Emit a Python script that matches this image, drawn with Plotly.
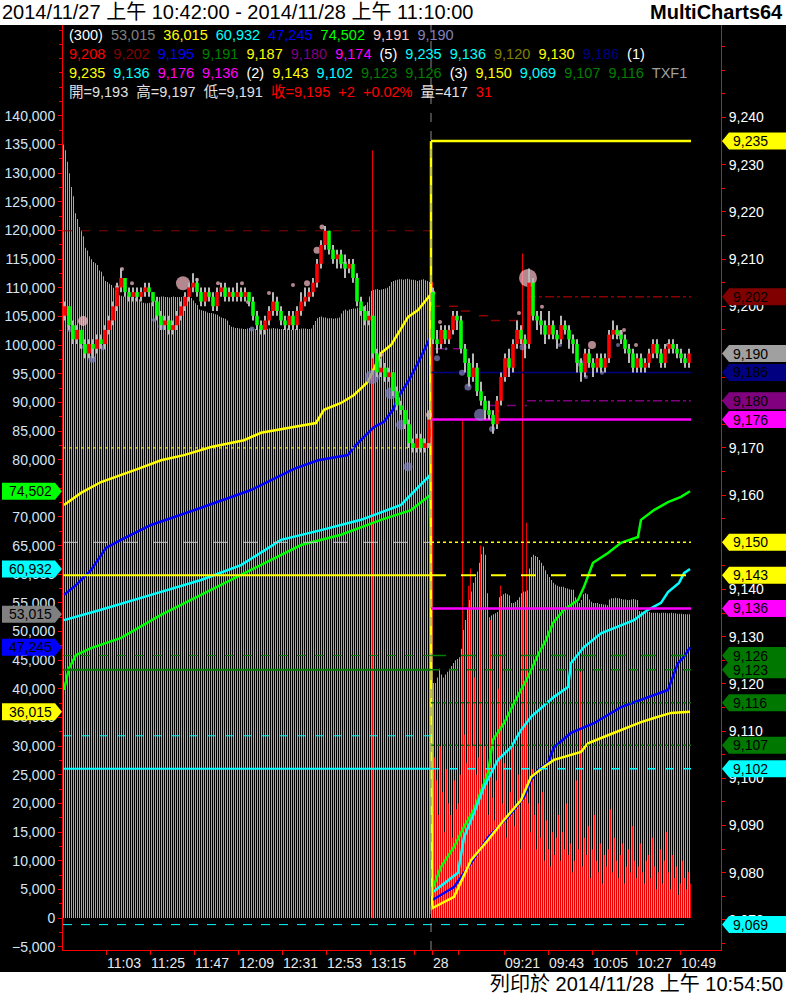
import plotly.graph_objects as go

FONT = "Liberation Sans, Arial, Noto Sans CJK TC, sans-serif"

TITLE_TEXT = "2014/11/27 上午 10:42:00 - 2014/11/28 上午 11:10:00"
BRAND_TEXT = "MultiCharts64"
PRINT_TEXT = "列印於 2014/11/28 上午 10:54:50"

DAY1_BARS = 184   # 1-min bars 10:42 .. 13:45 (27th)
DAY2_BARS = 130   # 1-min bars 08:45 .. 10:54 (28th)
CANDLE_SPAN = 2   # minutes per drawn candle

TICK_IDX = [21, 43, 65, 87, 109, 131, 153, 175, 184, 197, 220, 242, 264, 286, 308]
TICK_TEXT = ["11:03", "11:25", "11:47", "12:09", "12:31", "12:53", "13:15", "", "28", "",
             "09:21", "09:43", "10:05", "10:27", "10:49"]

LEFT_TICKS = list(range(-5000, 140001, 5000))
RIGHT_TICKS = list(range(9070, 9241, 10))
RIGHT_HIDDEN = [9150, 9180, 9190]   # labels covered by value tags

# ---- volume (thousands) ----
VOL_AVG_D1 = [135, 134, 132, 130, 127.6, 126, 123, 122, 120.6, 120, 119, 117, 116.5, 115.5, 115, 114.5,
              114.3, 114, 113, 112.8, 112, 111.2, 111, 110.7, 110.5, 110, 109.6, 109,
              108.7, 108.6, 108.5, 108.5, 108.6, 108.5, 108.4, 108.4, 108.3, 108.3, 108.0,
              107.5, 107.4, 107.3, 107.3, 107.4, 107.5, 107.6, 107.8,
              108.3, 108.4, 108.5, 108.5, 108.4, 108.4, 108.3, 108.4, 108.5, 108.4, 108.4, 108.4,
              108.4, 108.5, 108.4, 108.4, 108.3, 108.2,
              107.8, 107.3, 107.0,
              106.2, 106.1, 106.0, 105.9,
              105.7, 105.6, 105.6, 105.5, 105.4, 105.3, 105.0,
              104.8, 104.7, 104.6, 104.3,
              103.5, 103.2, 103.1, 103.0, 103.0,
              102.9, 102.9, 102.8, 102.8, 102.9, 103.0, 102.9, 102.8, 102.8, 102.7, 102.8, 102.9, 102.9,
              102.8, 102.8, 102.9, 102.9, 103.0, 102.9, 102.9, 102.8, 102.8, 102.8, 102.9, 102.9, 102.8,
              102.7, 102.7, 102.8, 102.8, 102.8, 102.9, 102.9, 102.9, 102.8, 102.8, 102.9,
              103.5, 104.2, 104.7, 104.9, 105.0,
              104.8, 104.8, 104.7, 104.7, 104.7, 104.6, 104.7, 104.7, 104.8,
              105.5, 106.0, 106.2, 106.0, 106.2, 106.3, 106.4, 106.4, 106.5,
              106.5, 106.6, 106.8, 107.0, 107.5, 108.5, 109.5,
              109.6, 109.7, 109.8, 109.6, 109.7, 109.8, 109.9, 110.0, 110.3,
              111.0, 111.2, 111.3, 111.4, 111.5, 111.5, 111.4, 111.5, 111.6, 111.5, 111.4, 111.4,
              111.3, 111.2, 111.3, 111.4, 111.5, 111.3, 111.2, 111.0]
VOL_AVG_D2 = [38, 41, 41, 42, 43.5, 42.5, 42, 42.5, 43, 43.5, 44, 44.5, 45, 45.2, 45.5,
              47, 50.3, 52, 54, 55.5, 57, 58.5, 59.5, 60.5, 62, 63.5, 64.8, 63.4,
              56.7, 52.5, 52.8, 53, 53.2, 53.4, 56, 56.2, 56.5, 56.7, 56.5, 56.3,
              55, 55, 55.2, 55.5, 56, 56.7, 57, 57, 57.2, 61, 63, 63.4, 63.2,
              63, 62.5, 62, 61.5, 60.7, 60, 59.5, 59, 58.5, 58.2, 58, 57.8, 57.8,
              57.8, 57.6, 57.5, 57.4, 57.3, 57.3, 56, 55.2, 55, 55.5, 56.5, 56.7, 56.5, 55.6,
              55.2, 55, 55, 55, 54.8, 54.8, 54.7, 54.7, 54.6,
              55.6, 55.8, 55.8, 55.9, 55.8, 55.8, 55.7, 55.6, 55.6, 55.5, 55.5, 55.6, 55.7, 55.6, 55.5,
              53.6, 53.5, 53.5, 53.4, 53.4, 53.4, 53.3, 53.3,
              53.3, 53.3, 53.2, 53.3, 53.3, 53.3, 53.2, 53.2, 53.3, 53.2, 53.2, 53.1, 53.1,
              53.1, 53.0, 53.0, 53.0, 53.015]
VOL_D2 = [111, 28, 24, 18, 30, 22, 15, 26, 20, 18, 14, 24, 19, 20, 25, 87, 32, 27, 58, 61,
          30, 42, 25, 28, 65, 22, 30, 26, 18, 52, 21, 17, 24, 40, 58, 20, 27, 14, 18, 22,
          30, 16, 19, 25, 12, 116, 34, 69, 20, 15, 26, 18, 12, 20, 14, 22, 10, 17, 12, 9,
          15, 11, 14, 18, 10, 15, 12, 20, 11, 13, 8, 10, 24, 12, 43, 9, 14, 11, 16, 7,
          12, 18, 10, 8, 13, 6, 11, 9, 12, 19, 8, 14, 10, 7, 11, 13, 6, 9, 12, 8,
          16, 10, 7, 9, 13, 8, 6, 10, 11, 7, 14, 9, 5, 8, 12, 6, 10, 15, 8, 5,
          11, 7, 9, 4, 6, 10, 7, 5, 8, 6]
VOL_D1_SPIKE_IDX = [154]
VOL_D1_SPIKE = [134]

# ---- cumulative volume lines (thousands), sampled (bar index, value) ----
YEL_IDX = [0, 8.5, 18.5, 28.5, 37, 48.5, 60, 73.5, 90, 98.5, 115, 126, 130, 138.5, 145, 152, 158.5, 163.5, 172, 177, 183,
           184, 195, 203.5, 212, 220, 228.5, 233.5, 240, 245, 258.5, 262, 272, 282, 288.5, 295, 303.5, 313]
YEL_VAL = [72.1, 74.2, 76.1, 77.3, 78.4, 79.9, 80.8, 82.2, 83.4, 84.7, 85.7, 86.4, 88.7, 89.9, 91.3, 93.6, 98.6, 100.0, 104.9, 106.1, 108.7,
           1.7, 3.7, 10.1, 13.6, 17.1, 20.6, 24.6, 26.4, 27.6, 29.0, 30.5, 31.9, 33.3, 34.2, 34.9, 35.8, 36.015]
BLU_IDX = [0, 6, 13.5, 21, 28.5, 43.5, 68.5, 93.5, 115, 127, 142, 145, 150, 155, 160, 164.5, 167, 172, 177, 183,
           184, 195, 203.5, 212, 222, 230, 233.5, 237, 242, 245, 253.5, 265, 278.5, 292, 302, 307, 310, 313]
BLU_VAL = [56.4, 58.1, 60.7, 64.6, 66.0, 68.6, 71.6, 74.7, 78.4, 79.9, 80.8, 82.2, 84.0, 85.7, 86.6, 88.7, 90.9, 93.6, 96.9, 101.2,
           3.1, 5.4, 9.6, 14.1, 17.6, 21.1, 24.1, 25.8, 27.1, 29.8, 32.3, 34.0, 36.8, 38.6, 39.8, 44.5, 45.6, 47.245]
CYN_IDX = [0, 18.5, 43.5, 68.5, 88.5, 108.5, 128.5, 148.5, 168.5, 183,
           184, 192, 197, 200, 205, 210, 217, 223.5, 228.5, 233.5, 245, 252, 253.5, 260, 268.5, 275, 285, 292, 298.5, 302, 307.5, 310, 313]
CYN_VAL = [52.0, 53.8, 56.4, 59.0, 61.6, 66.0, 67.7, 69.5, 72.1, 77.3,
           4.4, 6.6, 7.9, 14.1, 18.3, 22.9, 27.6, 29.8, 32.8, 35.1, 38.6, 40.3, 44.5, 47.3, 49.7, 50.6, 52.0, 53.8, 55.0, 56.9, 58.5, 60.2, 60.932]
GRN_IDX = [0, 2.5, 6, 13.5, 28.5, 48.5, 68.5, 88.5, 103.5, 118.5, 138.5, 158.5, 173.5, 183,
           184, 188.5, 195, 200, 205, 212, 214.5, 220, 225, 232, 237.5, 241, 244.5, 250, 257, 260, 264.5, 272, 278.5, 287, 288.5, 295, 302, 308.5, 313]
GRN_VAL = [39.8, 43.6, 45.9, 47.1, 48.9, 52.9, 56.4, 59.9, 62.5, 65.1, 66.9, 69.5, 71.2, 73.8,
           4.9, 8.9, 12.4, 15.9, 18.9, 25.3, 31.1, 34.0, 37.5, 42.1, 46.3, 48.5, 51.5, 53.8, 55.5, 57.8, 62.0, 63.7, 65.5, 66.5, 69.5, 71.2, 72.6, 73.5, 74.502]

# ---- candles (2-minute), day 1 and day 2 ----
O1 = [9198, 9200, 9196, 9193, 9195, 9192, 9190, 9192, 9191, 9193, 9192, 9195, 9197, 9200, 9204, 9206, 9203, 9202, 9203, 9202,
      9203, 9204, 9203, 9201, 9198, 9196, 9197, 9195, 9196, 9198, 9200, 9202, 9204, 9205, 9203, 9201, 9203, 9202, 9200, 9203,
      9204, 9202, 9203, 9202, 9203, 9202, 9203, 9201, 9198, 9196, 9195, 9197, 9199, 9201, 9199, 9197, 9196, 9198, 9196, 9199,
      9201, 9202, 9203, 9205, 9209, 9213, 9216, 9212, 9210, 9211, 9209, 9208, 9209, 9206, 9201, 9199, 9197, 9198, 9190, 9186,
      9187, 9185, 9186, 9182, 9179, 9178, 9175, 9171, 9170, 9172, 9170, 9171]
H1 = [9201, 9200, 9197, 9196, 9195, 9193, 9193, 9193, 9194, 9194, 9196, 9198, 9201, 9205, 9208, 9206, 9204, 9204, 9204, 9204,
      9205, 9205, 9203, 9202, 9199, 9198, 9198, 9197, 9199, 9201, 9203, 9205, 9207, 9206, 9204, 9204, 9204, 9203, 9204, 9205,
      9205, 9204, 9204, 9205, 9204, 9204, 9203, 9202, 9199, 9197, 9198, 9200, 9203, 9202, 9200, 9198, 9199, 9199, 9200, 9203,
      9204, 9204, 9206, 9210, 9214, 9217, 9216, 9213, 9212, 9212, 9211, 9210, 9210, 9207, 9202, 9200, 9199, 9198, 9191, 9189,
      9188, 9187, 9186, 9183, 9180, 9178, 9176, 9172, 9173, 9173, 9172, 9178]
L1 = [9197, 9195, 9192, 9192, 9191, 9189, 9189, 9189, 9190, 9191, 9191, 9194, 9196, 9199, 9203, 9202, 9201, 9201, 9201, 9201,
      9202, 9202, 9200, 9197, 9195, 9195, 9194, 9194, 9195, 9197, 9199, 9201, 9203, 9202, 9200, 9200, 9201, 9199, 9199, 9202,
      9201, 9201, 9201, 9201, 9201, 9201, 9200, 9197, 9195, 9194, 9194, 9196, 9198, 9198, 9196, 9195, 9195, 9195, 9195, 9198,
      9200, 9201, 9202, 9204, 9208, 9212, 9211, 9209, 9208, 9208, 9206, 9207, 9205, 9200, 9198, 9196, 9196, 9189, 9185, 9185,
      9184, 9184, 9181, 9178, 9177, 9174, 9170, 9169, 9169, 9169, 9169, 9170]
C1 = [9200, 9196, 9193, 9195, 9192, 9190, 9192, 9191, 9193, 9192, 9195, 9197, 9200, 9204, 9206, 9203, 9202, 9203, 9202, 9203,
      9204, 9203, 9201, 9198, 9196, 9197, 9195, 9196, 9198, 9200, 9202, 9204, 9205, 9203, 9201, 9203, 9202, 9200, 9203, 9204,
      9202, 9203, 9202, 9203, 9202, 9203, 9201, 9198, 9196, 9195, 9197, 9199, 9201, 9199, 9197, 9196, 9198, 9196, 9199, 9201,
      9202, 9203, 9205, 9209, 9213, 9216, 9212, 9210, 9211, 9209, 9208, 9209, 9206, 9201, 9199, 9197, 9198, 9190, 9186, 9187,
      9185, 9186, 9182, 9179, 9178, 9175, 9171, 9170, 9172, 9170, 9171, 9176]
O2 = [9203, 9193, 9192, 9195, 9193, 9195, 9198, 9197, 9191, 9188, 9185, 9187, 9182, 9180, 9178, 9177, 9175, 9180, 9185, 9189,
      9187, 9192, 9195, 9193, 9192, 9205, 9198, 9197, 9196, 9194, 9196, 9194, 9193, 9196, 9195, 9193, 9192, 9188, 9186, 9190,
      9188, 9187, 9189, 9187, 9189, 9194, 9195, 9194, 9193, 9191, 9190, 9187, 9189, 9187, 9188, 9190, 9192, 9190, 9188, 9191,
      9192, 9191, 9190, 9189, 9188]
H2 = [9204, 9195, 9196, 9196, 9196, 9199, 9199, 9198, 9192, 9189, 9190, 9188, 9184, 9181, 9180, 9178, 9181, 9186, 9190, 9191,
      9193, 9197, 9196, 9194, 9208, 9206, 9199, 9199, 9197, 9199, 9197, 9195, 9198, 9197, 9196, 9194, 9193, 9189, 9191, 9191,
      9189, 9190, 9190, 9190, 9195, 9197, 9196, 9195, 9194, 9192, 9191, 9190, 9190, 9189, 9191, 9193, 9193, 9191, 9192, 9193,
      9193, 9192, 9191, 9190, 9191]
L2 = [9192, 9190, 9191, 9192, 9192, 9194, 9195, 9190, 9186, 9183, 9184, 9181, 9179, 9176, 9176, 9173, 9174, 9179, 9184, 9185,
      9186, 9191, 9192, 9189, 9191, 9197, 9195, 9194, 9192, 9193, 9193, 9191, 9192, 9194, 9191, 9190, 9186, 9184, 9185, 9187,
      9185, 9186, 9186, 9186, 9188, 9193, 9193, 9192, 9190, 9188, 9186, 9186, 9186, 9186, 9187, 9189, 9189, 9187, 9187, 9190,
      9190, 9189, 9188, 9187, 9187]
C2 = [9193, 9192, 9195, 9193, 9195, 9198, 9197, 9191, 9188, 9185, 9187, 9182, 9180, 9178, 9177, 9175, 9180, 9185, 9189, 9187,
      9192, 9195, 9193, 9192, 9205, 9198, 9197, 9196, 9194, 9196, 9194, 9193, 9196, 9195, 9193, 9192, 9188, 9186, 9190, 9188,
      9187, 9189, 9187, 9189, 9194, 9195, 9194, 9193, 9191, 9190, 9187, 9189, 9187, 9188, 9190, 9192, 9190, 9188, 9191, 9192,
      9191, 9190, 9189, 9188, 9190]

# ---- high/low dots (bar index, price, size) ----
PINK_IDX = [9.5, 26.5, 29, 34, 59.5, 66.5, 77, 89, 92, 102.5, 114.5, 121.5, 126.5, 129, 140.5, 158.5, 182.5,
            184.5, 188, 227.5, 232, 239, 264, 278, 280, 286, 302]
PINK_PX = [9196.9, 9204.1, 9207.9, 9204.9, 9204.9, 9205.6, 9204.9, 9204.9, 9200.9, 9202.8, 9204.5, 9204.9, 9211.9, 9216.8,
           9209.2, 9189.7, 9177.0, 9202.8, 9196.7, 9198.6, 9206.0, 9199.9, 9191.8, 9194.3, 9195.0, 9191.8, 9191.8]
PINK_SZ = [10, 4, 4, 4, 14, 4, 4, 4, 4, 4, 4, 6, 7, 5, 4, 4, 6, 5, 4, 4, 18, 4, 8, 6, 4, 4, 4]
LAV_IDX = [3, 10.5, 14, 19.5, 45, 49, 94, 100, 154, 163.5, 168.5, 172,
           186.5, 191, 199, 202, 208, 214, 217, 229.5, 248, 258, 261, 269, 277]
LAV_PX = [9195.2, 9191.4, 9188.8, 9191.2, 9197.1, 9195.8, 9195.2, 9195.8, 9185.0, 9181.6, 9174.9, 9166.0,
          9189.0, 9191.0, 9185.9, 9182.9, 9177.0, 9174.0, 9177.8, 9191.4, 9191.8, 9188.0, 9185.0, 9185.9, 9191.8]
LAV_SZ = [6, 6, 7, 5, 4, 7, 5, 3, 14, 12, 10, 9, 6, 3, 6, 7, 12, 6, 3, 7, 4, 7, 4, 4, 4]

# ---- horizontal level lines: price, from bar, to bar ----
LEVEL_PX = [9216, 9170, 9150, 9143, 9126, 9123, 9109, 9102, 9069,
            9235, 9202, 9200, 9199, 9198, 9197, 9191, 9179, 9180, 9186, 9176, 9150, 9143, 9136,
            9126, 9123, 9116, 9107, 9102]
LEVEL_FROM = [0, 0, 0, 0, 0, 0, 0, 0, 0,
              184, 232, 184, 199, 208, 214, 186, 213, 232, 184, 184, 184, 184, 184,
              184, 184, 184, 184, 184]
LEVEL_TO = [183, 183, 183, 183, 183, 183, 183, 183, 313,
            313, 313, 198, 207, 213, 231, 203, 231, 313, 313, 313, 313, 313, 313,
            313, 313, 313, 313, 313]
LEVEL_STYLE = [("#8b0000", "dash", 1), ("#ffff00", "dot", 1), ("#c8c8c8", "longdash", 1), ("#ffff00", "solid", 2),
               ("#008000", "dash", 1), ("#008000", "solid", 2), ("#00ffff", "dash", 1), ("#00ffff", "solid", 2),
               ("#00ffff", "dash", 1),
               ("#ffff00", "solid", 2.5), ("#8b0000", "dashdot", 1.5), ("#8b0000", "dash", 1.5), ("#8b0000", "dash", 1.5),
               ("#8b0000", "dash", 1.5), ("#8b0000", "dash", 1.5), ("#800080", "dash", 1.5), ("#800080", "dash", 1.5),
               ("#800080", "dashdot", 1.5), ("#000080", "solid", 1.5), ("#ff00ff", "solid", 2.5), ("#ffff00", "dot", 1.5),
               ("#ffff00", "longdash", 2), ("#ff00ff", "solid", 2.5),
               ("#008000", "longdash", 1.5), ("#008000", "dash", 1.5), ("#008000", "dot", 1.5), ("#008000", "dot", 1.5),
               ("#00ffff", "dash", 1.5)]
OPEN_JUMP_PX = [9200, 9235]  # yellow level entering day 2

# ---- value tags ----
RTAG_VAL = [9235, 9202, 9190, 9186, 9180, 9176, 9150, 9143, 9136, 9126, 9123, 9116, 9107, 9102, 9069]
RTAG_COL = ["#ffff00", "#800000", "#a0a0a0", "#000080", "#800080", "#ff00ff", "#ffff00", "#ffff00", "#ff00ff",
            "#007800", "#007800", "#007800", "#007800", "#00ffff", "#00ffff"]
LTAG_VAL = [74502, 60932, 53015, 47245, 36015]
LTAG_COL = ["#00ff00", "#00ffff", "#808080", "#0000ff", "#ffff00"]

LEGEND_LINES = [
    [("(300)", "#ffffff"), ("53,015", "#808080"), ("36,015", "#ffff00"), ("60,932", "#00ffff"),
     ("47,245", "#0000ff"), ("74,502", "#00ff00"), ("9,191", "#ffc8c8"), ("9,190", "#8080c0")],
    [("9,208", "#ff0000"), ("9,202", "#800000"), ("9,195", "#0000ff"), ("9,191", "#008000"), ("9,187", "#ffff00"),
     ("9,180", "#800080"), ("9,174", "#ff00ff"), ("(5)", "#ffffff"), ("9,235", "#00ffff"), ("9,136", "#00ffff"),
     ("9,120", "#808000"), ("9,130", "#ffff00"), ("9,186", "#000080"), ("(1)", "#ffffff")],
    [("9,235", "#ffff00"), ("9,136", "#00ffff"), ("9,176", "#ff00ff"), ("9,136", "#ff00ff"), ("(2)", "#ffffff"),
     ("9,143", "#ffff00"), ("9,102", "#00ffff"), ("9,123", "#008000"), ("9,126", "#008000"), ("(3)", "#ffffff"),
     ("9,150", "#ffff00"), ("9,069", "#00ffff"), ("9,107", "#008000"), ("9,116", "#008000"), ("TXF1", "#a0a0a0")],
    [("開=9,193", "#e0e0e0"), ("高=9,197", "#e0e0e0"), ("低=9,191", "#e0e0e0"), ("收=9,195", "#ff0000"),
     ("+2", "#ff0000"), ("+0.02%", "#ff0000"), ("量=417", "#e0e0e0"), ("31", "#ff0000")],
]

assert len(VOL_AVG_D1) == DAY1_BARS, len(VOL_AVG_D1)
assert len(VOL_AVG_D2) == DAY2_BARS, len(VOL_AVG_D2)
assert len(VOL_D2) == DAY2_BARS, len(VOL_D2)

# ---------------- geometry helpers ----------------
W, H = 786, 995
ML, MR, MT, MB = 63, 65, 25, 45
PW, PH = W - ML - MR, H - MT - MB
X_RANGE = [-0.5, 328.5]
VOL_RANGE = [-5586, 155874]
PX_RANGE = [9063.62, 9259.6]
K = 1000


def px_x(p):
    return (p - ML) / PW


def px_y(p):
    return (H - MB - p) / PH


fig = go.Figure()

# volume bars (1 px grey, 1 px gap where day-2 per-minute red volume sits)
all_idx = list(range(DAY1_BARS + DAY2_BARS))
fig.add_trace(go.Bar(x=all_idx, y=[v * K for v in VOL_AVG_D1 + VOL_AVG_D2], width=0.5, offset=-0.5,
                     marker=dict(color="#a8a8a8", line_width=0), yaxis="y", hoverinfo="skip"))
red_x = VOL_D1_SPIKE_IDX + [DAY1_BARS + j for j in range(DAY2_BARS)]
red_y = [v * K for v in VOL_D1_SPIKE + VOL_D2]
fig.add_trace(go.Bar(x=red_x, y=red_y, width=0.5, offset=0.0,
                     marker=dict(color="#ee0000", line_width=0), yaxis="y", hoverinfo="skip"))

# cumulative lines
for xs, ys, col in [(GRN_IDX, GRN_VAL, "#00ff00"), (CYN_IDX, CYN_VAL, "#00ffff"),
                    (BLU_IDX, BLU_VAL, "#0000ff"), (YEL_IDX, YEL_VAL, "#ffff00")]:
    fig.add_trace(go.Scatter(x=xs, y=[v * K for v in ys], mode="lines", line=dict(color=col, width=2.5),
                             yaxis="y", hoverinfo="skip"))

# level lines
for p, a, b, (col, dash, w) in zip(LEVEL_PX, LEVEL_FROM, LEVEL_TO, LEVEL_STYLE):
    fig.add_trace(go.Scatter(x=[a - 0.5, b + 0.5], y=[p, p], mode="lines",
                             line=dict(color=col, dash=dash, width=w), yaxis="y2", hoverinfo="skip"))
fig.add_trace(go.Scatter(x=[DAY1_BARS - 0.5, DAY1_BARS - 0.5], y=OPEN_JUMP_PX, mode="lines",
                         line=dict(color="#ffff00", width=2.5), yaxis="y2", hoverinfo="skip"))

# dots
fig.add_trace(go.Scatter(x=LAV_IDX, y=LAV_PX, mode="markers",
                         marker=dict(color="#8484c4", size=LAV_SZ, line_width=0), yaxis="y2", hoverinfo="skip"))
fig.add_trace(go.Scatter(x=PINK_IDX, y=PINK_PX, mode="markers",
                         marker=dict(color="#ffc0cb", size=PINK_SZ, line_width=0), yaxis="y2", hoverinfo="skip"))

# candles
cx = [CANDLE_SPAN * k + 0.5 for k in range(len(C1))] + \
     [DAY1_BARS + CANDLE_SPAN * k + 0.5 for k in range(len(C2))]
O, Hh, Ll, C = O1 + O2, H1 + H2, L1 + L2, C1 + C2
fig.add_trace(go.Bar(x=cx, base=Ll, y=[h - l for h, l in zip(Hh, Ll)], width=0.5,
                     marker=dict(color="#b8b8b8", line_width=0), yaxis="y3", hoverinfo="skip"))
body_base = [min(o, c) for o, c in zip(O, C)]
body_h = [max(abs(c - o), 0.35) for o, c in zip(O, C)]
body_col = ["#ff0000" if c > o else ("#00ff00" if c < o else "#c0c0c0") for o, c in zip(O, C)]
fig.add_trace(go.Bar(x=cx, base=body_base, y=body_h, width=1.8,
                     marker=dict(color=body_col, line_width=0), yaxis="y3", hoverinfo="skip"))

# ---------------- shapes ----------------
shapes = [
    dict(type="rect", xref="paper", yref="paper", x0=px_x(0), x1=px_x(W), y0=px_y(MT), y1=px_y(-2),
         fillcolor="white", line_width=0, layer="below"),
    dict(type="rect", xref="paper", yref="paper", x0=px_x(0), x1=px_x(W), y0=px_y(972), y1=px_y(H + 2),
         fillcolor="white", line_width=0, layer="below"),
    dict(type="line", xref="x", yref="paper", x0=DAY1_BARS - 0.5, x1=DAY1_BARS - 0.5, y0=0, y1=1,
         line=dict(color="#8a8a8a", width=1, dash="dash")),
]
annotations = []

# right tags
h2 = 8.5 / (PH / (PX_RANGE[1] - PX_RANGE[0]))
xt, xl, xr = px_x(722), px_x(729), px_x(786)
for v, col in zip(RTAG_VAL, RTAG_COL):
    shapes.append(dict(type="path", xref="paper", yref="y2",
                       path=f"M {xt},{v} L {xl},{v + h2} L {xr},{v + h2} L {xr},{v - h2} L {xl},{v - h2} Z",
                       fillcolor=col, line_width=0))
    annotations.append(dict(xref="paper", yref="y2", x=px_x(731), y=v, xanchor="left", yanchor="middle",
                            text=f"{v:,}", showarrow=False, font=dict(family=FONT, size=14, color="#000000")))
# left tags
h1 = 8.5 / (PH / (VOL_RANGE[1] - VOL_RANGE[0]))
xt, xl, xr = px_x(62), px_x(55), px_x(2)
for v, col in zip(LTAG_VAL, LTAG_COL):
    shapes.append(dict(type="path", xref="paper", yref="y",
                       path=f"M {xt},{v} L {xl},{v + h1} L {xr},{v + h1} L {xr},{v - h1} L {xl},{v - h1} Z",
                       fillcolor=col, line_width=0))
    annotations.append(dict(xref="paper", yref="y", x=px_x(54), y=v, xanchor="right", yanchor="middle",
                            text=f"{v:,}", showarrow=False, font=dict(family=FONT, size=14, color="#000000")))

# legend text lines
SEP = " \u00a0"
for row, (line, ypx) in enumerate(zip(LEGEND_LINES, [35, 54, 73, 92])):
    txt = SEP.join(f'<span style="color:{c}">{t}</span>' for t, c in line)
    annotations.append(dict(xref="paper", yref="paper", x=px_x(67), y=px_y(ypx), xanchor="left", yanchor="middle",
                            text=txt, showarrow=False, font=dict(family=FONT, size=14.5, color="#ffffff")))

# header / footer
annotations += [
    dict(xref="paper", yref="paper", x=px_x(0), y=px_y(12), xanchor="left", yanchor="middle",
         text=TITLE_TEXT, showarrow=False, font=dict(family=FONT, size=20, color="#000000")),
    dict(xref="paper", yref="paper", x=px_x(785), y=px_y(12), xanchor="right", yanchor="middle",
         text=f"<b>{BRAND_TEXT}</b>", showarrow=False, font=dict(family=FONT, size=20, color="#000000")),
    dict(xref="paper", yref="paper", x=px_x(785), y=px_y(984), xanchor="right", yanchor="middle",
         text=PRINT_TEXT, showarrow=False, font=dict(family=FONT, size=20, color="#000000")),
]

right_text = ["" if v in RIGHT_HIDDEN else f"{v:,}" for v in RIGHT_TICKS]

fig.update_layout(
    width=W, height=H, margin=dict(l=ML, r=MR, t=MT, b=MB, pad=0, autoexpand=False),
    paper_bgcolor="#000000", plot_bgcolor="#000000", showlegend=False, barmode="overlay",
    shapes=shapes, annotations=annotations,
    xaxis=dict(range=X_RANGE, showgrid=False, zeroline=False, showline=True, linecolor="#ff0000", linewidth=1,
               ticks="outside", tickcolor="#ff0000", ticklen=4, tickvals=TICK_IDX, ticktext=TICK_TEXT,
               tickangle=0, automargin=False,
               ticklabelposition="outside right", tickfont=dict(family=FONT, size=14, color="#e8e8e8")),
    yaxis=dict(range=VOL_RANGE, side="left", showgrid=False, zeroline=False, showline=True, linecolor="#ff0000",
               linewidth=1, ticks="outside", tickcolor="#ff0000", ticklen=4, tickvals=LEFT_TICKS, automargin=False,
               tickformat=",d", tickfont=dict(family=FONT, size=14, color="#d2e6fa"),
               minor=dict(dtick=2500, ticks="outside", ticklen=3, tickcolor="#ff0000")),
    yaxis2=dict(range=PX_RANGE, overlaying="y", side="right", showgrid=False, zeroline=False, showline=True,
                linecolor="#ff0000", linewidth=1, ticks="outside", tickcolor="#ff0000", ticklen=4, automargin=False,
                tickvals=RIGHT_TICKS, ticktext=right_text, tickfont=dict(family=FONT, size=14, color="#ffffff"),
                minor=dict(dtick=5, ticks="outside", ticklen=3, tickcolor="#ff0000")),
    yaxis3=dict(range=PX_RANGE, overlaying="y", visible=False),
)

fig.write_html("out.html", config={"displayModeBar": False},
               post_script="document.body.style.margin='0';document.body.style.overflow='hidden';")
